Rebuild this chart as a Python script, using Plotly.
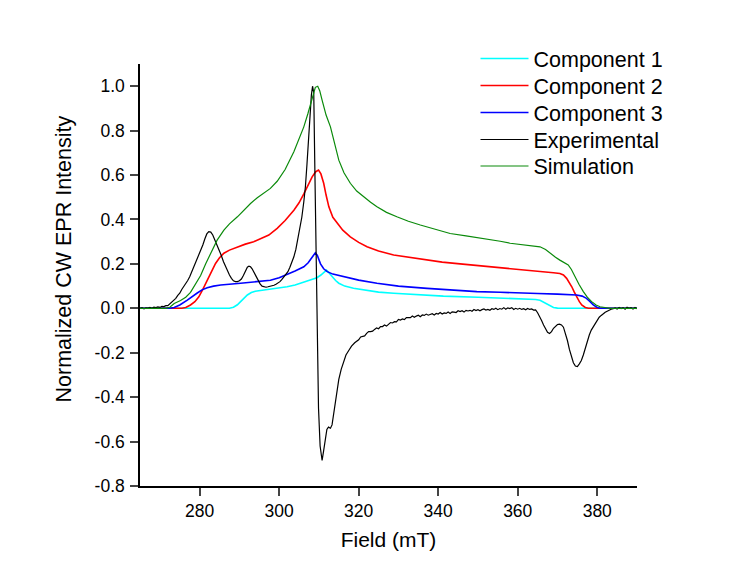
import plotly.graph_objects as go

# ---------------- data ----------------
comp1_x = [265, 287.5, 288.5, 289.5, 290.3, 291.1, 292, 293, 294, 295.3, 297, 299, 301, 302, 304, 306.2, 308,
           309.5, 310.5, 311.3, 311.9, 312.5, 313.3, 314.2, 315, 316.5, 318.7, 322, 325, 328.8, 335, 341.3, 350,
           358.1, 362, 364.5, 365.6, 366.5, 367.3, 368.2, 369, 370, 371, 390]
comp1_y = [0, 0, 0.005, 0.016, 0.03, 0.045, 0.06, 0.071, 0.077, 0.08, 0.084, 0.089, 0.094, 0.097, 0.105, 0.118, 0.128,
           0.138, 0.15, 0.163, 0.172, 0.16, 0.142, 0.125, 0.113, 0.1, 0.09, 0.08, 0.073, 0.068, 0.061, 0.055, 0.05,
           0.045, 0.043, 0.04, 0.036, 0.028, 0.02, 0.01, 0.004, 0.001, 0, 0]

comp2_x = [265, 275.5, 276.5, 277.7, 278.8, 279.8, 280.8, 281.9, 283, 284, 285, 286.1, 287.5, 289.5, 291.5, 293.6,
           295.3, 297.4, 299.5, 301.5, 303.7, 305, 306.2, 307.3, 308.3, 309.2, 309.9, 310.5, 311.2, 311.8, 312.5,
           313.5, 314.6, 316, 317.9, 320, 322.1, 325, 328.8, 333, 337.2, 341, 345.5, 350, 355.6, 358.1, 362, 366,
           369, 370.6, 371.5, 372.3, 373, 373.6, 374.2, 374.8, 375.5, 376.1, 377, 377.8, 390]
comp2_y = [0, 0, 0.004, 0.015, 0.03, 0.052, 0.085, 0.127, 0.168, 0.202, 0.228, 0.248, 0.262, 0.277, 0.289, 0.3,
           0.313, 0.33, 0.36, 0.395, 0.442, 0.475, 0.515, 0.555, 0.592, 0.615, 0.622, 0.605, 0.563, 0.51, 0.457,
           0.41, 0.382, 0.352, 0.322, 0.297, 0.277, 0.258, 0.24, 0.228, 0.217, 0.208, 0.2, 0.193, 0.182, 0.178,
           0.172, 0.165, 0.16, 0.157, 0.15, 0.135, 0.117, 0.097, 0.074, 0.052, 0.03, 0.015, 0.004, 0, 0]

comp3_x = [265, 272.5, 273.6, 275, 276.9, 278.2, 279.4, 280.6, 281.9, 283.5, 285.3, 290.3, 295.3, 297.8, 300, 302,
           304, 306.2, 307.3, 308.2, 309.1, 309.6, 310.4, 311.2, 312.1, 313.5, 316.2, 320, 324.6, 330, 337.2, 343,
           349.7, 355.6, 358.1, 365, 370, 374.8, 376.2, 377.3, 378.2, 379, 380, 380.7, 390]
comp3_y = [0, 0, 0.004, 0.015, 0.037, 0.055, 0.069, 0.083, 0.093, 0.1, 0.105, 0.113, 0.12, 0.126, 0.138, 0.152,
           0.168, 0.187, 0.205, 0.228, 0.25, 0.238, 0.2, 0.178, 0.165, 0.154, 0.142, 0.127, 0.113, 0.1, 0.09, 0.082,
           0.075, 0.072, 0.07, 0.067, 0.064, 0.06, 0.055, 0.045, 0.03, 0.015, 0.004, 0, 0]

exp_x = [265.0, 265.5, 266.0, 266.5, 267.0, 267.5, 268.0, 268.5, 269.0, 269.5, 270.0, 270.5, 271.0, 271.5,
         272.0, 272.5, 273.0, 273.5, 274.0, 274.5, 275.0, 275.5, 276.0, 276.5, 277.0, 277.5, 278.0, 278.6,
         279.2, 279.7, 280.25, 280.8, 281.3, 281.8, 282.3, 282.8, 283.3, 283.8, 284.3, 284.8, 285.4, 286.0,
         286.5, 287.0, 287.5, 288.0, 288.5, 289.0, 289.5, 290.0, 290.5, 291.0, 291.5, 292.0, 292.4, 292.8,
         293.2, 293.7, 294.2, 294.7, 295.2, 295.7, 296.2, 296.7, 297.2, 297.7, 298.2, 298.7, 299.2, 299.7,
         300.2, 300.7, 301.2, 301.7, 302.2, 302.7, 303.2, 303.7, 304.2, 304.7, 305.2, 305.7, 306.2, 306.6,
         307.0, 307.4, 307.8, 308.1, 308.4, 308.7, 309.0, 309.3, 309.6, 309.9, 310.3, 310.8, 311.2, 311.6,
         312.0, 312.4, 312.9, 313.3, 313.7, 314.1, 314.5, 315.0, 315.6, 316.2, 316.8, 317.5, 318.2, 319.0,
         319.5, 320.0, 320.5, 321.0, 321.5, 322.0, 322.5, 323.0, 323.5, 324.0, 324.5, 325.0, 325.5, 326.0,
         326.5, 327.0, 327.5, 328.0, 328.5, 329.0, 329.5, 330.0, 330.5, 331.0, 331.5, 332.0, 332.5, 333.0,
         333.5, 334.0, 334.5, 335.0, 335.5, 336.0, 336.5, 337.0, 337.5, 338.0, 338.5, 339.0, 339.5, 340.0,
         340.5, 341.0, 341.5, 342.0, 342.5, 343.0, 343.5, 344.0, 344.5, 345.0, 345.5, 346.0, 346.5, 347.0,
         347.5, 348.0, 348.5, 349.0, 349.5, 350.0, 350.5, 351.0, 351.5, 352.0, 352.5, 353.0, 353.5, 354.0,
         354.5, 355.0, 355.5, 356.0, 356.5, 357.0, 357.5, 358.0, 358.5, 359.0, 359.5, 360.0, 360.5, 361.0,
         361.5, 362.0, 362.5, 363.0, 363.5, 364.0, 364.5, 365.0, 365.5, 366.0, 366.5, 367.0, 367.5, 368.0,
         368.5, 369.0, 369.5, 370.0, 370.5, 371.0, 371.5, 372.0, 372.5, 373.0, 373.5, 374.0, 374.5, 375.0,
         375.5, 376.0, 376.5, 377.0, 377.5, 378.0, 378.5, 379.0, 379.5, 380.0, 380.5, 381.0, 381.5, 382.0,
         382.5, 383.0, 383.5, 384.0, 384.5, 385.0, 385.5, 386.0, 386.5, 387.0, 387.5, 388.0, 388.5, 389.0,
         389.5, 390.0]
exp_y = [0.000, 0.003, -0.002, 0.002, 0.001, 0.004, 0.000, 0.005, 0.003, 0.006, 0.004, 0.009, 0.008, 0.012,
         0.012, 0.020, 0.025, 0.037, 0.045, 0.058, 0.068, 0.085, 0.097, 0.112, 0.125, 0.142, 0.163, 0.187,
         0.212, 0.232, 0.255, 0.285, 0.312, 0.335, 0.345, 0.343, 0.330, 0.310, 0.290, 0.268, 0.240, 0.210,
         0.188, 0.168, 0.150, 0.135, 0.124, 0.120, 0.120, 0.124, 0.132, 0.148, 0.170, 0.185, 0.190, 0.187,
         0.178, 0.160, 0.140, 0.122, 0.110, 0.100, 0.096, 0.095, 0.097, 0.099, 0.100, 0.104, 0.108, 0.113,
         0.120, 0.130, 0.140, 0.150, 0.165, 0.185, 0.205, 0.232, 0.265, 0.310, 0.360, 0.410, 0.480, 0.547,
         0.650, 0.770, 0.880, 0.960, 1.000, 0.970, 0.600, 0.250, -0.100, -0.450, -0.620, -0.685, -0.640, -0.590,
         -0.545, -0.535, -0.540, -0.525, -0.480, -0.430, -0.375, -0.320, -0.275, -0.240, -0.210, -0.190, -0.170, -0.155,
         -0.147, -0.142, -0.129, -0.125, -0.124, -0.113, -0.105, -0.105, -0.103, -0.095, -0.088, -0.092, -0.082, -0.082,
         -0.075, -0.080, -0.071, -0.064, -0.066, -0.060, -0.061, -0.050, -0.053, -0.048, -0.051, -0.042, -0.042, -0.042,
         -0.035, -0.040, -0.035, -0.031, -0.038, -0.030, -0.032, -0.026, -0.031, -0.028, -0.024, -0.030, -0.023, -0.026,
         -0.019, -0.026, -0.021, -0.023, -0.017, -0.023, -0.016, -0.017, -0.019, -0.011, -0.015, -0.011, -0.017, -0.009,
         -0.012, -0.009, -0.013, -0.005, -0.010, -0.006, -0.011, -0.006, -0.003, -0.008, -0.005, -0.009, -0.002, -0.005,
         0.000, -0.006, -0.001, -0.004, 0.003, -0.004, 0.002, -0.001, 0.003, -0.005, 0.000, -0.004, 0.000, -0.005,
         -0.002, -0.007, -0.001, -0.005, -0.003, -0.008, -0.007, -0.020, -0.035, -0.055, -0.075, -0.092, -0.108, -0.113,
         -0.105, -0.090, -0.080, -0.073, -0.071, -0.075, -0.085, -0.110, -0.145, -0.185, -0.220, -0.245, -0.260, -0.262,
         -0.250, -0.235, -0.210, -0.178, -0.148, -0.120, -0.098, -0.083, -0.065, -0.052, -0.040, -0.032, -0.024, -0.018,
         -0.013, -0.008, -0.004, -0.002, 0.002, -0.003, 0.004, -0.001, 0.003, -0.004, 0.005, 0.000, 0.003, -0.003,
         0.004, -0.002]

sim_x = [265, 271.5, 272.5, 273.6, 275.2, 276.5, 277.7, 279.4, 280.25, 281.5, 282.8, 284.4, 286.1, 287.5, 289.5,
         291, 292.8, 294.5, 296.1, 297.8, 299.5, 301.5, 303.7, 305, 306.2, 307.2, 307.9, 308.6, 309.1, 309.7,
         310.2, 310.8, 311.8, 312.9, 314, 315, 316.3, 317.9, 319.5, 321.2, 323, 324.6, 327, 329.6, 332.5, 335.5,
         339, 343, 347, 351.4, 355.6, 358.1, 361, 363, 365.6, 367, 368.1, 369.5, 370.6, 371.7, 372.7, 373.5,
         374.4, 375.4, 376.5, 377.5, 378.6, 379.7, 380.7, 382, 383.2, 390]
sim_y = [0, 0, 0.005, 0.022, 0.035, 0.05, 0.072, 0.127, 0.148, 0.2, 0.248, 0.307, 0.352, 0.38, 0.412,
         0.44, 0.472, 0.498, 0.52, 0.54, 0.572, 0.625, 0.705, 0.76, 0.817, 0.875, 0.922, 0.97, 0.995, 1.0,
         0.98, 0.937, 0.87, 0.817, 0.74, 0.667, 0.61, 0.563, 0.528, 0.502, 0.478, 0.457, 0.432, 0.412, 0.392, 0.375,
         0.356, 0.337, 0.326, 0.315, 0.302, 0.293, 0.288, 0.283, 0.277, 0.265, 0.248, 0.23, 0.217, 0.205, 0.195, 0.175,
         0.142, 0.108, 0.075, 0.05, 0.03, 0.015, 0.007, 0.002, 0, 0]

series_names = ["Component 1", "Component 2", "Component 3", "Experimental", "Simulation"]
x_ticks = [280, 300, 320, 340, 360, 380]
y_ticks = [-0.8, -0.6, -0.4, -0.2, 0.0, 0.2, 0.4, 0.6, 0.8, 1.0]
y_tick_labels = ["-0.8", "-0.6", "-0.4", "-0.2", "0.0", "0.2", "0.4", "0.6", "0.8", "1.0"]
x_title = "Field (mT)"
y_title = "Normalized CW EPR Intensity"

xs_all = [comp1_x, comp2_x, comp3_x, exp_x, sim_x]
ys_all = [comp1_y, comp2_y, comp3_y, exp_y, sim_y]
colors = ["#00FFFF", "#FF0000", "#0000FF", "#000000", "#0A8A0A"]
widths = [1.6, 1.6, 1.6, 1.2, 1.2]

FONT = "Liberation Sans, Arial, sans-serif"
L, R, T, B, W, H = 140, 116, 64, 93, 753, 579
plot_h = H - T - B
plot_w = W - L - R

# one single-entry legend per series so entries can sit at the reference spacing
legend_centers_px = [58.5, 85.5, 112.5, 139.5, 166]
legend_left_px = 475.5

fig = go.Figure()
layout_legends = {}
for i, (name, xs, ys, col, w) in enumerate(zip(series_names, xs_all, ys_all, colors, widths)):
    lname = "legend" if i == 0 else f"legend{i + 1}"
    fig.add_trace(go.Scatter(x=xs, y=ys, mode="lines", name=name, legend=lname,
                             line=dict(color=col, width=w)))
    layout_legends[lname] = dict(
        x=(legend_left_px - L) / plot_w,
        y=(H - B - legend_centers_px[i]) / plot_h,
        xanchor="left", yanchor="middle",
        font=dict(family=FONT, size=21.5, color="black"),
        bgcolor="rgba(0,0,0,0)", borderwidth=0, itemwidth=48,
    )

fig.update_layout(
    width=W, height=H,
    margin=dict(l=L, r=R, t=T, b=B),
    paper_bgcolor="white", plot_bgcolor="white",
    font=dict(family=FONT, size=17, color="black"),
    showlegend=True,
    xaxis=dict(range=[265, 390], tickvals=x_ticks, ticks="outside", ticklen=8, tickwidth=1.5,
               showline=True, linewidth=1.5, linecolor="black", showgrid=False, zeroline=False,
               tickfont=dict(size=17.5),
               title=dict(text=x_title, font=dict(size=21), standoff=13)),
    yaxis=dict(range=[-0.8, 1.1], tickvals=y_ticks, ticktext=y_tick_labels, ticks="outside",
               ticklen=8, tickwidth=1.5, showline=True, linewidth=1.5, linecolor="black",
               showgrid=False, zeroline=False, tickfont=dict(size=17.5), ticklabelstandoff=2),
    annotations=[dict(text=y_title, textangle=-90, showarrow=False,
                      xref="paper", yref="paper",
                      x=(63 - L) / plot_w, y=(H - B - 259.5) / plot_h,
                      xanchor="center", yanchor="middle",
                      font=dict(family=FONT, size=21.5, color="black"))],
    **layout_legends,
)

fig.write_html("out.html")
